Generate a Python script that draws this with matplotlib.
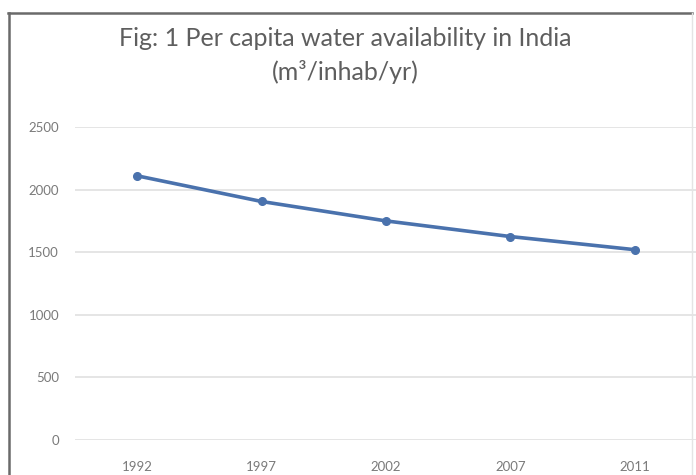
import matplotlib
matplotlib.use("Agg")
import matplotlib.pyplot as plt
from matplotlib.lines import Line2D

years = ["1992", "1997", "2002", "2007", "2011"]
availability = [2110, 1905, 1750, 1625, 1520]
y_ticks = [0, 500, 1000, 1500, 2000, 2500]

plt.rcParams['font.family'] = ['Lato', 'DejaVu Sans']

W, H = 696, 475
fig = plt.figure(figsize=(W / 100, H / 100), dpi=100)
fig.patch.set_facecolor('white')

ax = fig.add_axes([75 / W, 1 - 440 / H, (697 - 75) / W, (440 - 127) / H])
x = list(range(len(years)))
ax.plot(x, availability, color='#4a72ad', lw=2.6, marker='o', ms=5.5,
        markerfacecolor='#4a72ad', markeredgecolor='#4a72ad', solid_capstyle='round')

ax.set_xlim(-0.5, len(years) - 0.5)
ax.set_ylim(0, 2500)
ax.set_yticks(y_ticks)
ax.set_yticklabels([str(v) for v in y_ticks])
ax.set_xticks(x)
ax.set_xticklabels(years)
ax.grid(axis='y', color='#e0e0e0', lw=1.2)
ax.set_axisbelow(True)
for s in ax.spines.values():
    s.set_visible(False)
ax.tick_params(axis='both', length=0, labelsize=9.5, labelcolor='#7a7a7a')
ax.tick_params(axis='y', pad=11.5)
ax.tick_params(axis='x', pad=15)

fig.text(345 / W, 1 - 38 / H, "Fig: 1 Per capita water availability in India",
         ha='center', va='center', fontsize=18, color='#5e5e5e')
fig.text(345 / W, 1 - 72 / H, "(m\u00b3/inhab/yr)",
         ha='center', va='center', fontsize=18, color='#5e5e5e')

# chart frame
fig.add_artist(Line2D([8 / W, 692 / W], [1 - 13 / H, 1 - 13 / H],
                      transform=fig.transFigure, color='#6a6a6a', lw=1.8))
fig.add_artist(Line2D([9 / W, 9 / W], [1 - 13 / H, 0],
                      transform=fig.transFigure, color='#6a6a6a', lw=1.8))
fig.add_artist(Line2D([692 / W, 692 / W], [1 - 13 / H, 0],
                      transform=fig.transFigure, color='#e4e4e4', lw=1.0))

fig.savefig("out.png", dpi=100)
